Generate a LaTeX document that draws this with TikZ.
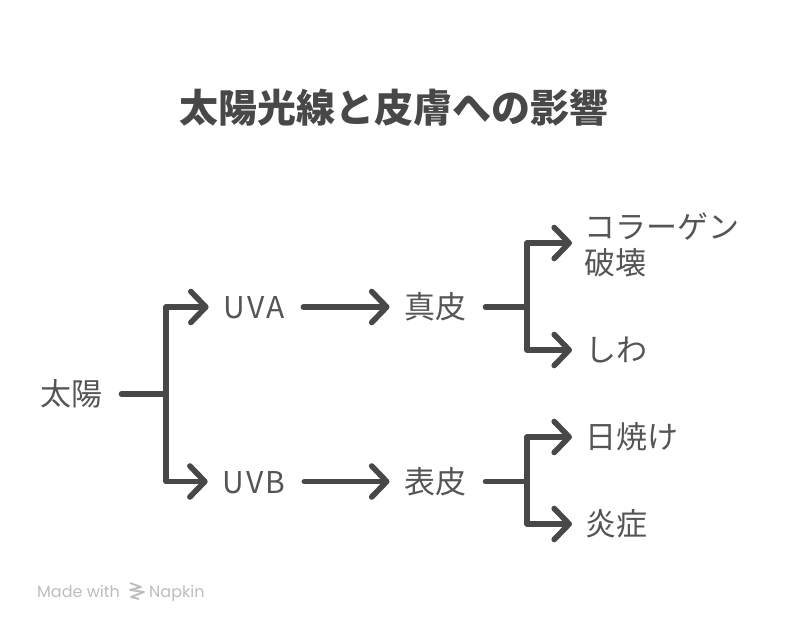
\documentclass[tikz,border=0pt]{standalone}
\usepackage{fontspec}
\usetikzlibrary{arrows.meta}
\setmainfont{Noto Sans CJK JP}
\newfontfamily\footfont{Poppins}
\definecolor{ink}{HTML}{484848}
\definecolor{txt}{HTML}{555555}
\definecolor{foot}{HTML}{BDBDBD}
\tikzset{
  lab/.style={inner sep=0pt,outer xsep=15pt,outer ysep=0pt,text=txt,font=\fontsize{31}{36}\selectfont,text height=28pt,text depth=5pt},
  lablat/.style={lab,font=\fontsize{30}{36}\addfontfeature{LetterSpace=7}\selectfont},
  labr/.style={lab,anchor=west,outer xsep=13pt},
  conn/.style={draw=ink,line width=5.6pt,line cap=round,line join=round},
  arr/.style={conn,-{Straight Barb[length=15pt,width=31pt,line width=5.6pt,round,line cap=round]}},
  stub/.style={shorten <=4pt},
  footlab/.style={inner sep=0pt,anchor=base west,text=foot,font=\footfont\fontsize{16}{18}\selectfont},
}
\begin{document}
\begin{tikzpicture}[x=1pt,y=-1pt]
\useasboundingbox (0,0) rectangle (788,634);
\node[inner sep=0pt,text=ink,font=\fontsize{39}{46}\bfseries\selectfont] (title) at (394,107.5) {太陽光線と皮膚への影響};
\node[lab] (sun) at (71.5,394) {太陽};
\node[lablat] (uva) at (254,307) {UVA};
\node[lablat] (uvb) at (254,481.5) {UVB};
\node[lab] (dermis) at (435.5,307) {真皮};
\node[lab] (epi) at (435.5,481.5) {表皮};
\node[lab,anchor=west,align=left,text height=,text depth=,outer xsep=0pt] (coll) at (584.5,245) {コラーゲン\\破壊};
\coordinate (collin) at (572,243);
\node[labr] (wrink) at (572,350) {しわ};
\node[labr] (burn) at (572,437) {日焼け};
\node[labr] (infl) at (572,524) {炎症};
\coordinate (j1) at (166,394);
\coordinate (j1a) at (166,307);
\coordinate (j1b) at (166,481.5);
\coordinate (j2) at (527,307);
\coordinate (j2a) at (527,243);
\coordinate (j2b) at (527,350);
\coordinate (j3) at (527,481.5);
\coordinate (j3a) at (527,437);
\coordinate (j3b) at (527,524);
\draw[conn,stub] (sun) -- (j1);
\draw[arr] (j1) -- (j1a) -- (uva);
\draw[arr] (j1) -- (j1b) -- (uvb);
\draw[arr,stub] (uva) -- (dermis);
\draw[arr,stub] (uvb) -- (epi);
\draw[conn,stub] (dermis) -- (j2);
\draw[arr] (j2) -- (j2a) -- (collin);
\draw[arr] (j2) -- (j2b) -- (wrink.west);
\draw[conn,stub] (epi) -- (j3);
\draw[arr] (j3) -- (j3a) -- (burn.west);
\draw[arr] (j3) -- (j3b) -- (infl.west);
\node[footlab] (made) at (37,597) {Made with};
\node[footlab] (nap) at (149,597) {Napkin};
\draw[foot,line width=1.9pt,line join=round] (130,583) -- (141,587) -- (130,590) -- (144,592) -- (131,597) -- (139,599);
\end{tikzpicture}
\end{document}
